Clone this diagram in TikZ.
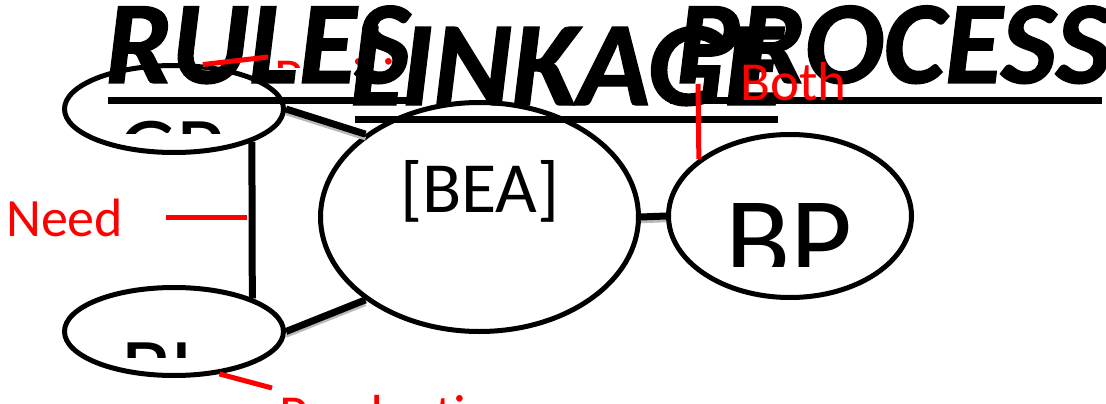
\documentclass[tikz,border=0pt]{standalone}
\usepackage{fontspec}
\setmainfont{Carlito}
\newfontfamily\titlefont[FakeBold=1.2]{Carlito Bold Italic}
\usetikzlibrary{shapes.geometric}
\begin{document}
\begin{tikzpicture}[x=1pt,y=-1pt,
  oval/.style={ellipse, draw=black, line width=5pt, inner sep=0pt},
  link/.style={line width=7pt, draw=black},
  linkshadow/.style={line width=3.5pt, draw=gray!55},
  redline/.style={draw=red, line width=5pt},
  redlabel/.style={text=red, font=\fontsize{55}{55}\selectfont, inner sep=0pt, anchor=base west},
  titletext/.style={font=\titlefont\fontsize{118}{118}\selectfont, inner sep=0pt, anchor=base west},
  uline/.style={draw=black, line width=7pt},
  plaintext/.style={inner sep=0pt, anchor=base west}]
\useasboundingbox (0,0) rectangle (1106,404);

% ellipses (nodes)
\node[oval, minimum width=219pt, minimum height=87pt] (gp) at (174,109) {};
\node[oval, minimum width=318pt, minimum height=229pt] (bea) at (479.5,217) {};
\node[oval, minimum width=243pt, minimum height=163pt] (bp) at (790,216) {};
\node[oval, minimum width=219pt, minimum height=88pt] (bl) at (174,331.5) {};

% connectors: shadows then lines
\draw[linkshadow] ([yshift=-4.5pt]gp.east) -- ([yshift=-4.5pt]bea.144);
\draw[linkshadow] ([yshift=-4.5pt]bl.east) -- ([yshift=-4.5pt]bea.216);
\draw[linkshadow] ([yshift=-4.5pt]bea.east) -- ([yshift=-4.5pt]bp.west);
\draw[link] (gp.east) -- (bea.144);
\draw[link] (bl.east) -- (bea.216);
\draw[link] (bea.east) -- (bp.west);
\draw[link] (gp.-23) -- (bl.23);

% texts inside ellipses (clipped)
\begin{scope}
  \clip (0,0) rectangle (1106,133);
  \node[plaintext, font=\fontsize{93}{93}\selectfont] (gptext) at (118,181) {GP};
\end{scope}
\begin{scope}
  \clip (0,0) rectangle (1106,357);
  \node[plaintext, font=\fontsize{93}{93}\selectfont] (bltext) at (121,402) {BL};
\end{scope}
\begin{scope}
  \clip (0,0) rectangle (1106,266);
  \node[plaintext, font=\fontsize{120}{120}\selectfont] (bptext) at (725,280) {BP};
\end{scope}
\node[plaintext, font=\fontsize{72}{72}\selectfont] (beatext) at (400,212) {[BEA]};

% red labels
\node[redlabel, font=\fontsize{54}{54}\selectfont] (need) at (6,236) {Need};
\begin{scope}
  \clip (0,0) rectangle (1106,68);
  \node[redlabel] (posi) at (274,96) {Position};
\end{scope}

% titles
\node[titletext] (rules) at (105,83) {RULES};
\node[titletext, font=\titlefont\fontsize{120}{120}\selectfont] (linkage) at (350,105) {LINKAGE};
\node[titletext] (process) at (676,83) {PROCESS};
\draw[uline] (108,100.5) -- (413,100.5);
\draw[uline] (355,119) -- (778,119);
\draw[uline] (670,100.5) -- (1102,100.5);

% red connector lines
\coordinate (needend) at (166,217);
\coordinate (needtip) at (247,217);
\coordinate (bothend) at (698,84);
\coordinate (positip) at (268,57);
\coordinate (prodtip) at (272,388);
\draw[redline] (needend) -- (needtip);
\draw[redline] (bothend) -- (bp.148);
\draw[redline] (gp.57) -- (positip);
\draw[redline] (bl.-43) -- (prodtip);

\node[redlabel] (both) at (740,100) {Both};
\node[redlabel] (prod) at (279,433) {Production};
\end{tikzpicture}
\end{document}
